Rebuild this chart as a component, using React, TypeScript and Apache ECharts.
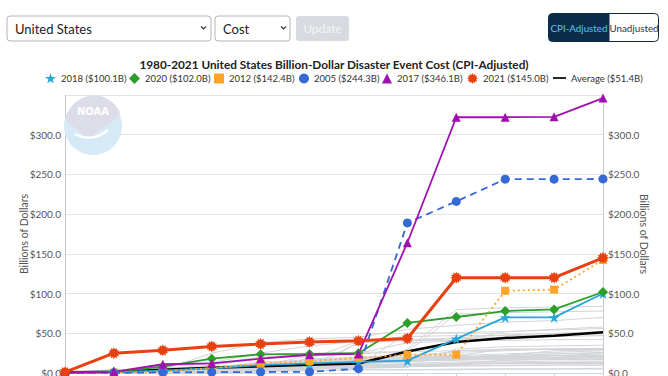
import React, { useEffect, useRef } from "react";
import * as echarts from "echarts";

const months = ["Jan", "Feb", "Mar", "Apr", "May", "Jun", "Jul", "Aug", "Sep", "Oct", "Nov", "Dec"];
const yTicks = [0, 50, 100, 150, 200, 250, 300];

// highlighted years (cumulative, billions CPI-adjusted)
const y2018 = [0, 1, 3, 6, 10, 12, 14, 15.5, 43, 70, 70, 100.1];
const y2020 = [0.5, 1.5, 8, 18, 23.5, 24, 25, 63, 70.5, 78, 80, 102.0];
const y2012 = [0, 0.5, 2, 6, 12, 15, 19, 23, 23, 103.5, 105, 142.4];
const y2005 = [0, 0.2, 0.8, 1, 1.2, 1.5, 5.5, 189, 216, 244, 244, 244.3];
const y2017 = [0.5, 1.5, 11, 12, 18, 23, 24, 164, 322, 322, 322.5, 346.1];
const y2021 = [1, 25, 28.5, 33.5, 36.5, 39, 40.5, 43.5, 120, 120, 120, 145.0];
const yAverage = [0.5, 1.5, 4, 6.5, 8.5, 10.5, 12, 27, 39, 44, 47, 51.4];

// other years (grey background lines)
const g1980 = [0, 0, 0, 0, 1, 5, 38, 41, 41, 41, 42, 42];
const g1981 = [0, 0, 0, 1, 2, 3, 4, 4, 4, 5, 5, 5];
const g1982 = [0, 1, 2, 3, 4, 6, 7, 8, 9, 10, 10, 10];
const g1983 = [0, 2, 3, 4, 6, 8, 10, 16, 18, 20, 22, 24];
const g1984 = [0, 1, 2, 4, 5, 6, 7, 8, 9, 9, 10, 10];
const g1985 = [1, 2, 3, 4, 5, 6, 7, 8, 12, 16, 18, 20];
const g1986 = [0, 1, 2, 3, 4, 6, 9, 10, 11, 12, 12, 12];
const g1987 = [0, 0, 1, 2, 3, 3, 4, 4, 5, 5, 5, 6];
const g1988 = [0, 0, 0, 0, 1, 18, 40, 46, 47, 47, 48, 48];
const g1989 = [0, 1, 2, 3, 4, 5, 6, 7, 30, 33, 34, 35];
const g1990 = [0, 1, 2, 4, 6, 8, 9, 10, 11, 12, 13, 13];
const g1991 = [0, 1, 2, 3, 4, 6, 7, 9, 10, 16, 17, 17];
const g1992 = [0.5, 1, 2, 4, 6, 8, 9, 50, 51, 52, 55, 58];
const g1993 = [0, 1, 6, 7, 8, 9, 38, 41, 43, 45, 46, 47];
const g1994 = [0, 4, 5, 6, 8, 10, 14, 15, 16, 17, 18, 18];
const g1995 = [0, 1, 4, 6, 10, 14, 16, 18, 22, 30, 30, 31];
const g1996 = [0, 2, 3, 4, 5, 6, 7, 8, 12, 13, 13, 14];
const g1997 = [1, 2, 4, 8, 9, 10, 11, 11, 12, 12, 12, 12];
const g1998 = [2, 4, 6, 8, 12, 16, 20, 22, 26, 28, 30, 30];
const g1999 = [0, 2, 4, 6, 8, 10, 14, 18, 28, 30, 30, 31];
const g2000 = [0, 0, 1, 2, 3, 4, 9, 12, 14, 14, 15, 15];
const g2001 = [0, 1, 2, 4, 10, 18, 19, 20, 21, 21, 22, 22];
const g2002 = [0, 1, 2, 4, 6, 10, 12, 14, 20, 22, 24, 26];
const g2003 = [0, 1, 2, 3, 10, 12, 13, 14, 20, 22, 28, 29];
const g2004 = [0.5, 1, 1.5, 3, 5, 7, 8, 30, 80, 82, 83, 84];
const g2006 = [0, 1, 3, 8, 12, 13, 15, 18, 20, 22, 24, 25];
const g2007 = [1, 3, 5, 7, 9, 11, 13, 15, 18, 20, 22, 22];
const g2008 = [0.5, 1.5, 5, 6, 9, 22, 24, 27, 74, 76, 77, 78];
const g2009 = [2, 3, 5, 7, 10, 14, 18, 20, 22, 24, 26, 28];
const g2010 = [0, 2, 4, 6, 14, 16, 17, 18, 19, 20, 20, 21];
const g2011 = [1, 3, 4, 25, 38, 43, 45, 55, 60, 64, 66, 70];
const g2013 = [0, 1, 8, 12, 20, 24, 26, 27, 28, 29, 30, 30];
const g2014 = [0, 2, 4, 6, 10, 13, 15, 16, 17, 18, 19, 20];
const g2015 = [0, 3, 5, 7, 11, 13, 15, 16, 17, 19, 20, 22];
const g2016 = [0, 2, 5, 10, 18, 22, 25, 38, 40, 52, 54, 56];
const g2019 = [0, 1, 9, 13, 25, 34, 40, 42, 44, 48, 50, 52];

const greyYears: [string, number[]][] = [
  ["1980", g1980], ["1981", g1981], ["1982", g1982], ["1983", g1983], ["1984", g1984],
  ["1985", g1985], ["1986", g1986], ["1987", g1987], ["1988", g1988], ["1989", g1989],
  ["1990", g1990], ["1991", g1991], ["1992", g1992], ["1993", g1993], ["1994", g1994],
  ["1995", g1995], ["1996", g1996], ["1997", g1997], ["1998", g1998], ["1999", g1999],
  ["2000", g2000], ["2001", g2001], ["2002", g2002], ["2003", g2003], ["2004", g2004],
  ["2006", g2006], ["2007", g2007], ["2008", g2008], ["2009", g2009], ["2010", g2010],
  ["2011", g2011], ["2013", g2013], ["2014", g2014], ["2015", g2015], ["2016", g2016],
  ["2019", g2019],
];

const N2018 = "2018 ($100.1B)";
const N2020 = "2020 ($102.0B)";
const N2012 = "2012 ($142.4B)";
const N2005 = "2005 ($244.3B)";
const N2017 = "2017 ($346.1B)";
const N2021 = "2021 ($145.0B)";
const NAVG = "Average ($51.4B)";

const FONT = "Lato, 'Open Sans', sans-serif";
const NARROW = "'Liberation Sans Narrow', Lato, sans-serif";

const STAR = "path://M50,0 L61,35 L98,35 L68,57 L79,91 L50,70 L21,91 L32,57 L2,35 L39,35 Z";
const LINEICON = "path://M0,0 H20 V2.6 H0 Z";
function burst() {
  const pts: string[] = [];
  for (let i = 0; i < 24; i++) {
    const r = i % 2 ? 34 : 50;
    const a = (Math.PI * 2 * i) / 24 - Math.PI / 2;
    pts.push(`${(50 + r * Math.cos(a)).toFixed(1)},${(50 + r * Math.sin(a)).toFixed(1)}`);
  }
  return "path://M" + pts.join("L") + "Z";
}
const BURST = burst();

let registered = false;
function registerLogo() {
  if (registered) return;
  registered = true;
  const d = "M1,24 A28,28 0 0 1 55,15 C49,22 42,28 35,32 C30,35 27,38 24,42 C18,36 10,29 1,24 Z";
  echarts.graphic.registerShape("noaaTop", echarts.graphic.extendPath(d, {}) as any);
}

export default function App() {
  const ref = useRef<HTMLDivElement>(null);
  useEffect(() => {
    if (!ref.current) return;
    registerLogo();
    const chart = echarts.init(ref.current, undefined, { renderer: "svg" });

    const greySeries = greyYears.map(([name, vals]) => ({
      name,
      type: "line",
      data: vals,
      symbol: "none",
      silent: true,
      lineStyle: { color: "#d2d4d8", width: 1 },
      z: 2,
    }));

    const hl = (name: string, data: number[], color: string, symbol: string, size: number, line: any, z = 4) => ({
      name,
      type: "line",
      data,
      symbol,
      symbolSize: size,
      itemStyle: { color },
      lineStyle: { color, ...line },
      z,
    });

    const legendItem = (name: string, icon: string, left: number, extra: any = {}) => ({
      data: [{ name, icon }],
      left,
      top: 68,
      padding: 5,
      itemWidth: 11,
      itemHeight: 11,
      itemGap: 0,
      textStyle: { fontSize: 9.5, color: "#333", fontFamily: NARROW },
      selectedMode: false,
      ...extra,
    });

    const ctrlText = { fontFamily: FONT, fontSize: 13, fill: "#222" };
    const yLabel = {
      color: "#555",
      fontSize: 10,
      fontFamily: NARROW,
      formatter: (v: number) => (yTicks.includes(v) ? "$" + v.toFixed(1) : ""),
    };

    chart.setOption({
      animation: false,
      backgroundColor: "#fff",
      title: {
        text: "1980-2021 United States Billion-Dollar Disaster Event Cost (CPI-Adjusted)",
        left: "center",
        top: 53,
        textStyle: { fontSize: 11.8, fontWeight: "bold", color: "#222", fontFamily: FONT },
      },
      legend: [
        legendItem(N2018, STAR, 40),
        legendItem(N2020, "diamond", 124),
        legendItem(N2012, "rect", 209, { itemWidth: 10, itemHeight: 10, top: 68.5 }),
        legendItem(N2005, "circle", 294, { itemWidth: 10, itemHeight: 10, top: 68.5 }),
        legendItem(N2017, "triangle", 377, { itemWidth: 10, itemHeight: 10, top: 68.5 }),
        legendItem(N2021, BURST, 462),
        legendItem(NAVG, LINEICON, 548, { itemWidth: 13 }),
      ],
      grid: { left: 65, right: 65, top: 95, bottom: 47, containLabel: false },
      xAxis: {
        type: "category",
        data: months,
        boundaryGap: false,
        axisLine: { lineStyle: { color: "#ccd6eb" } },
        axisTick: { show: true, lineStyle: { color: "#ccd6eb" } },
        axisLabel: { show: false },
        splitLine: { show: false },
      },
      yAxis: [
        {
          type: "value",
          min: 0,
          max: 350,
          interval: 50,
          position: "left",
          name: "Billions of Dollars",
          nameLocation: "middle",
          nameGap: 36,
          nameMoveOverlap: false,
          nameTextStyle: { color: "#555", fontSize: 10.5, fontFamily: FONT },
          axisLine: { show: true, lineStyle: { color: "#c8c8c8" } },
          axisTick: { show: false },
          axisLabel: { ...yLabel, margin: 4 },
          splitLine: { show: true, lineStyle: { color: "#e3e3e3", width: 1 } },
        },
        {
          type: "value",
          min: 0,
          max: 350,
          interval: 50,
          position: "right",
          name: "Billions of Dollars",
          nameLocation: "middle",
          nameRotate: -90,
          nameGap: 35,
          nameMoveOverlap: false,
          nameTextStyle: { color: "#555", fontSize: 10.5, fontFamily: FONT },
          axisLine: { show: true, lineStyle: { color: "#c8c8c8" } },
          axisTick: { show: false },
          axisLabel: { ...yLabel, margin: 5 },
          splitLine: { show: false },
        },
      ],
      graphic: [
        // controls
        { type: "rect", shape: { x: 7, y: 16, width: 204, height: 25, r: 3 }, style: { fill: "#fff", stroke: "#b5b5b5", lineWidth: 1 } },
        { type: "text", x: 15, y: 28.5, style: { text: "United States", ...ctrlText, verticalAlign: "middle" } },
        { type: "polyline", shape: { points: [[201, 26.5], [203.5, 29], [206, 26.5]] }, style: { stroke: "#333", lineWidth: 1.2, fill: "none" } },
        { type: "rect", shape: { x: 215, y: 16, width: 75, height: 25, r: 3 }, style: { fill: "#fff", stroke: "#b5b5b5", lineWidth: 1 } },
        { type: "text", x: 223, y: 28.5, style: { text: "Cost", ...ctrlText, verticalAlign: "middle" } },
        { type: "polyline", shape: { points: [[281, 26.5], [283.5, 29], [286, 26.5]] }, style: { stroke: "#333", lineWidth: 1.2, fill: "none" } },
        { type: "rect", shape: { x: 296, y: 16, width: 53, height: 25, r: 3 }, style: { fill: "#d7dade" } },
        { type: "text", x: 322.5, y: 28.5, style: { text: "Update", fontFamily: FONT, fontSize: 12, fill: "#f3f5f7", align: "center", verticalAlign: "middle" } },
        { type: "rect", shape: { x: 548.5, y: 13.5, width: 110, height: 28, r: 4 }, style: { fill: "#fff", stroke: "#0c2b49", lineWidth: 1 } },
        { type: "rect", shape: { x: 548.5, y: 13.5, width: 61, height: 28, r: [4, 0, 0, 4] }, style: { fill: "#0c2b49" } },
        { type: "text", x: 579, y: 28, style: { text: "CPI-Adjusted", fontFamily: FONT, fontSize: 9.8, fill: "#59c6ee", align: "center", verticalAlign: "middle" } },
        { type: "text", x: 634, y: 28, style: { text: "Unadjusted", fontFamily: FONT, fontSize: 9.8, fill: "#1b3654", align: "center", verticalAlign: "middle" } },
        // NOAA logo
        { type: "circle", z: 1, shape: { cx: 93, cy: 126, r: 29 }, style: { fill: "#d5e9f6" } },
        { type: "noaaTop", z: 1, x: 65, y: 98, style: { fill: "#dcdde8" } },
        { type: "bezierCurve", z: 1, shape: { x1: 75, y1: 134, x2: 108, y2: 130, cpx1: 92, cpy1: 143 }, style: { stroke: "#ffffff", lineWidth: 2.5, fill: "none" } },
        { type: "text", z: 1, x: 93, y: 111, style: { text: "NOAA", fontFamily: "'DejaVu Sans', sans-serif", fontWeight: "bold", fontSize: 10, fill: "#ffffff", align: "center", verticalAlign: "middle" } },
      ],
      series: [
        ...greySeries,
        hl(NAVG, yAverage, "#000000", "none", 0, { width: 2.5 }, 3),
        hl(N2018, y2018, "#29a6d8", STAR, 11, { width: 1.8 }),
        hl(N2020, y2020, "#2e9e2a", "diamond", 10, { width: 1.8 }),
        hl(N2012, y2012, "#ffa42a", "rect", 8, { width: 1.8, type: [2, 3] }),
        hl(N2005, y2005, "#3569d6", "circle", 9, { width: 1.8, type: [7, 5] }),
        hl(N2017, y2017, "#a00fb0", "triangle", 9, { width: 1.8 }),
        hl(N2021, y2021, "#e8400f", BURST, 12, { width: 3 }, 5),
      ],
    });
    return () => chart.dispose();
  }, []);

  return (
    <div style={{ position: "absolute", left: 0, top: 0, width: 668, height: 376, overflow: "hidden", background: "#fff" }}>
      <div ref={ref} style={{ width: 668, height: 420 }} />
    </div>
  );
}
